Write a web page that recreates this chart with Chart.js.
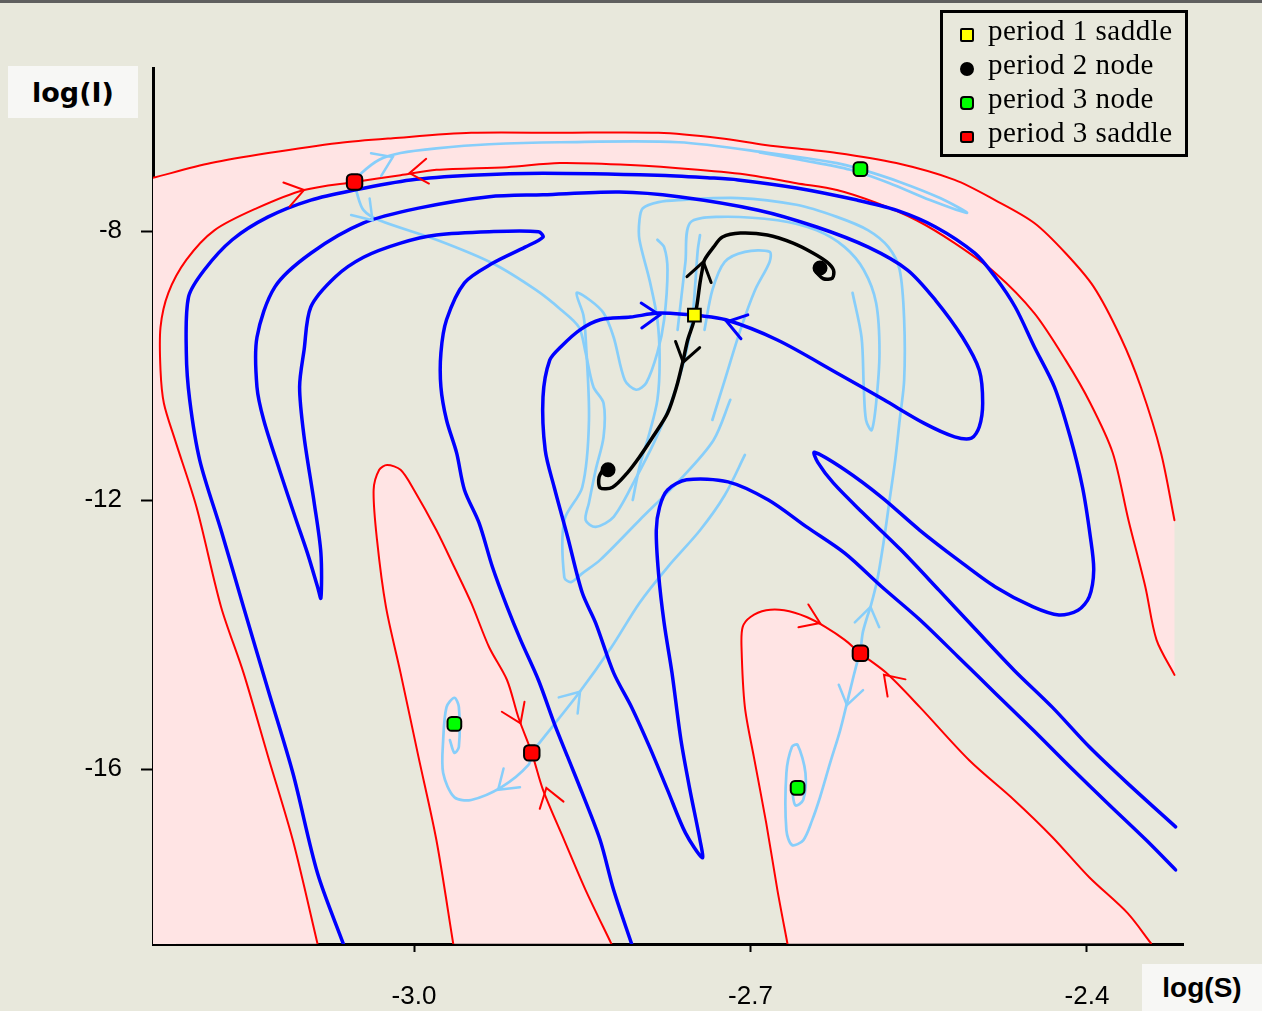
<!DOCTYPE html>
<html><head><meta charset="utf-8">
<script src="https://cdn.jsdelivr.net/npm/chart.js@4.4.1/dist/chart.umd.min.js"></script>
<style>
html,body{margin:0;padding:0;}
body{width:1262px;height:1011px;overflow:hidden;background:#e8e8dc;position:relative;}
#topbar{position:absolute;left:0;top:0;width:1262px;height:3px;background:#5f5f5f;}
#cv{position:absolute;left:0;top:0;}
.axt{position:absolute;background:#f7f7f5;font-family:"DejaVu Sans",sans-serif;font-weight:bold;font-size:27px;color:#000;display:flex;align-items:center;justify-content:center;}
#legend{position:absolute;left:940px;top:10px;width:242px;height:141px;border:3px solid #000;font-family:"Liberation Serif",serif;font-size:29px;letter-spacing:0.5px;color:#000;}
.row{position:absolute;left:0;height:34px;line-height:34px;white-space:nowrap;}
.row span.t{position:absolute;left:45px;top:-3px;}
.mk{position:absolute;left:17px;top:12px;width:10px;height:10px;border:2px solid #000;}
</style></head>
<body>
<div id="topbar"></div>
<canvas id="cv" width="1262" height="1011"></canvas>
<div class="axt" style="left:8px;top:66px;width:130px;height:52px;">log(I)</div>
<div class="axt" style="left:1142px;top:964px;width:120px;height:47px;font-family:'Liberation Sans',sans-serif;font-size:28px;">log(S)</div>
<div id="legend">
  <div class="row" style="top:3px;"><span class="mk" style="background:#ffff00;border-radius:2px;"></span><span class="t">period 1 saddle</span></div>
  <div class="row" style="top:37px;"><span class="mk" style="background:#000;border-radius:7px;"></span><span class="t">period 2 node</span></div>
  <div class="row" style="top:71px;"><span class="mk" style="background:#00ff00;border-radius:4px;"></span><span class="t">period 3 node</span></div>
  <div class="row" style="top:105px;"><span class="mk" style="background:#ff0000;border-radius:3px;height:8px;top:13px;"></span><span class="t">period 3 saddle</span></div>
</div>
<script>
// ---- axes ----
const XMIN = -3.2327, XMAX = -2.3144, YMIN = -18.602, YMAX = -5.576;
const xTicks = [-3.0, -2.7, -2.4];
const xTickLabels = ['-3.0', '-2.7', '-2.4'];
const yTicks = [-8, -12, -16];
const yTickLabels = ['-8', '-12', '-16'];

// ---- red curves (stable manifolds of period-3 saddles) ----
const r1S = [-3.233,-3.181,-3.130,-3.067,-3.019,-2.949,-2.870,-2.782,-2.727,-2.687,-2.623,-2.570,-2.518,-2.482,-2.447,-2.419,-2.394,-2.370,-2.352,-2.334,-2.322];
const r1I = [-7.21,-6.99,-6.84,-6.69,-6.62,-6.54,-6.54,-6.54,-6.62,-6.72,-6.84,-6.99,-7.24,-7.54,-7.88,-8.33,-8.83,-9.58,-10.32,-11.30,-12.30];
const r2S = [-2.322,-2.338,-2.348,-2.363,-2.377,-2.397,-2.419,-2.447,-2.482,-2.518,-2.552,-2.588,-2.623,-2.659,-2.700,-2.747,-2.807,-2.870,-2.917,-2.980,-3.012,-3.053,-3.098,-3.140,-3.178,-3.203,-3.219,-3.226,-3.226,-3.223,-3.213,-3.194,-3.172,-3.152,-3.130,-3.108,-3.086];
const r2I = [-14.60,-14.08,-13.29,-12.30,-11.30,-10.56,-9.92,-9.22,-8.62,-8.18,-7.84,-7.58,-7.39,-7.29,-7.17,-7.09,-7.02,-6.99,-7.05,-7.09,-7.17,-7.27,-7.39,-7.66,-7.99,-8.43,-8.92,-9.43,-10.07,-10.56,-11.11,-12.10,-13.59,-14.57,-15.82,-17.06,-18.60];
const r3S = [-2.965,-2.980,-2.996,-3.012,-3.025,-3.033,-3.036,-3.031,-3.024,-3.012,-3.000,-2.980,-2.964,-2.949,-2.933,-2.917,-2.907,-2.895,-2.885,-2.866,-2.847,-2.824];
const r3I = [-18.60,-17.06,-15.82,-14.57,-13.59,-12.59,-11.85,-11.55,-11.48,-11.55,-11.85,-12.45,-13.00,-13.53,-14.19,-14.68,-15.23,-15.76,-16.31,-17.06,-17.80,-18.60];
const r4S = [-2.667,-2.676,-2.686,-2.697,-2.705,-2.708,-2.707,-2.700,-2.686,-2.670,-2.650,-2.633,-2.616,-2.602,-2.579,-2.549,-2.505,-2.465,-2.431,-2.398,-2.364,-2.343];
const r4I = [-18.60,-17.80,-16.80,-15.82,-15.08,-14.19,-13.89,-13.74,-13.64,-13.64,-13.74,-13.89,-14.08,-14.28,-14.57,-15.08,-15.87,-16.46,-17.01,-17.61,-18.14,-18.59];
const pinkCornerS = [-3.2327];
const pinkCornerI = [-18.602];

// ---- blue curves (stable manifold of period-1 saddle) ----
const b1S = [-3.063,-3.086,-3.108,-3.130,-3.152,-3.172,-3.191,-3.200,-3.203,-3.201,-3.187,-3.162,-3.130,-3.092,-3.053,-3.003,-2.949,-2.885,-2.783,-2.736,-2.711,-2.659,-2.605,-2.570,-2.535,-2.500,-2.482,-2.464,-2.447,-2.429,-2.415,-2.404,-2.397,-2.394,-2.398,-2.408,-2.425,-2.448,-2.482,-2.515,-2.549,-2.583,-2.616,-2.643,-2.640,-2.626,-2.600,-2.566,-2.532,-2.499,-2.465,-2.431,-2.398,-2.364,-2.321];
const b1I = [-18.60,-17.55,-16.06,-14.83,-13.59,-12.45,-11.41,-10.51,-9.81,-8.98,-8.58,-8.13,-7.79,-7.54,-7.39,-7.24,-7.17,-7.14,-7.17,-7.21,-7.24,-7.36,-7.54,-7.69,-7.94,-8.33,-8.68,-9.13,-9.72,-10.32,-11.06,-11.81,-12.55,-13.04,-13.44,-13.64,-13.71,-13.59,-13.29,-12.89,-12.45,-11.96,-11.55,-11.29,-11.44,-11.75,-12.19,-12.74,-13.34,-13.93,-14.53,-15.08,-15.67,-16.21,-16.86];
const b2S = [-2.806,-2.822,-2.834,-2.850,-2.863,-2.875,-2.889,-2.905,-2.917,-2.930,-2.942,-2.955,-2.962,-2.971,-2.976,-2.976,-2.971,-2.955,-2.930,-2.901,-2.885,-2.889,-2.933,-2.980,-3.012,-3.045,-3.070,-3.092,-3.098,-3.102,-3.098,-3.089,-3.083,-3.083,-3.086,-3.095,-3.105,-3.120,-3.134,-3.140,-3.140,-3.124,-3.092,-3.045,-2.996,-2.933,-2.885,-2.817,-2.764,-2.693,-2.641,-2.595,-2.560,-2.535,-2.511,-2.496,-2.493,-2.496,-2.503,-2.518,-2.545,-2.581,-2.623,-2.676,-2.722,-2.750];
const b2I = [-18.60,-17.80,-17.06,-16.36,-15.82,-15.32,-14.68,-14.08,-13.59,-13.00,-12.34,-11.85,-11.30,-10.81,-10.32,-9.81,-9.32,-8.77,-8.48,-8.24,-8.09,-8.01,-8.01,-8.06,-8.18,-8.39,-8.68,-9.13,-9.77,-10.32,-11.06,-12.04,-12.79,-13.46,-13.29,-12.79,-12.30,-11.55,-10.81,-10.32,-9.58,-8.83,-8.33,-7.88,-7.66,-7.49,-7.46,-7.42,-7.49,-7.69,-7.94,-8.24,-8.58,-9.03,-9.58,-10.07,-10.56,-10.91,-11.08,-11.06,-10.86,-10.51,-10.11,-9.62,-9.32,-9.25];
const b3S = [-2.750,-2.782,-2.807,-2.834,-2.852,-2.869,-2.879,-2.885,-2.883,-2.875,-2.863,-2.850,-2.838,-2.822,-2.806,-2.790,-2.774,-2.758,-2.743,-2.745,-2.754,-2.762,-2.770,-2.777,-2.782,-2.784,-2.781,-2.774,-2.757,-2.720,-2.684,-2.650,-2.616,-2.583,-2.549,-2.515,-2.482,-2.448,-2.415,-2.381,-2.347,-2.321];
const b3I = [-9.25,-9.22,-9.28,-9.32,-9.47,-9.72,-9.92,-10.47,-11.26,-11.81,-12.55,-13.38,-13.83,-14.57,-15.08,-15.67,-16.31,-16.95,-17.32,-17.06,-16.31,-15.57,-14.57,-13.83,-13.09,-12.45,-12.10,-11.85,-11.70,-11.73,-12.00,-12.40,-12.79,-13.29,-13.78,-14.33,-14.87,-15.42,-15.97,-16.52,-17.06,-17.50];

// ---- black curves (unstable manifold of period-1 saddle) ----
const k1S = [-2.750,-2.748,-2.745,-2.743,-2.741,-2.733,-2.725,-2.709,-2.685,-2.662,-2.644,-2.632,-2.626,-2.627,-2.635,-2.641];
const k1I = [-9.25,-9.13,-8.77,-8.58,-8.43,-8.24,-8.09,-8.03,-8.06,-8.18,-8.33,-8.46,-8.58,-8.70,-8.71,-8.62];
const k2S = [-2.750,-2.751,-2.756,-2.760,-2.766,-2.774,-2.787,-2.799,-2.810,-2.823,-2.834,-2.835,-2.830];
const k2I = [-9.25,-9.37,-9.62,-9.92,-10.32,-10.71,-11.06,-11.36,-11.60,-11.81,-11.82,-11.66,-11.51];

// ---- light blue curves (unstable manifolds of period-3 saddles) ----
const lb1S = [-3.053,-3.047,-3.031,-3.012,-2.980,-2.933,-2.870,-2.764,-2.683,-2.623,-2.602,-2.567,-2.531,-2.507,-2.540,-2.576,-2.611,-2.656,-2.692];
const lb1I = [-7.27,-7.14,-6.94,-6.84,-6.77,-6.71,-6.68,-6.68,-6.84,-6.99,-7.08,-7.27,-7.51,-7.73,-7.54,-7.29,-7.09,-6.94,-6.83];
const lb2S = [-3.053,-3.051,-3.045,-3.031,-2.980,-2.930,-2.891,-2.869,-2.853,-2.847,-2.840,-2.831,-2.831,-2.838,-2.844,-2.847,-2.838,-2.822,-2.803,-2.785,-2.770,-2.759,-2.752,-2.749,-2.747,-2.745];
const lb2I = [-7.27,-7.43,-7.69,-7.84,-8.13,-8.48,-8.88,-9.17,-9.43,-9.81,-10.32,-10.56,-11.06,-11.55,-12.04,-12.30,-12.40,-12.25,-11.70,-11.11,-10.51,-9.92,-9.32,-8.73,-8.28,-8.06];
const lb3S = [-2.895,-2.891,-2.853,-2.824,-2.799,-2.774,-2.745,-2.723,-2.705];
const lb3I = [-15.76,-15.67,-14.87,-14.19,-13.53,-13.00,-12.45,-11.93,-11.33];
const lb4S = [-2.895,-2.898,-2.922,-2.949,-2.964,-2.974,-2.974,-2.971,-2.964,-2.960,-2.960,-2.964,-2.968];
const lb4I = [-15.76,-15.94,-16.27,-16.46,-16.42,-16.06,-15.57,-15.08,-14.94,-15.08,-15.67,-15.76,-15.57];
const lb5S = [-2.602,-2.600,-2.596,-2.593,-2.587,-2.581,-2.576,-2.571,-2.567,-2.563,-2.563,-2.567,-2.577,-2.595,-2.623,-2.659,-2.711,-2.764,-2.782,-2.796,-2.799,-2.799,-2.790,-2.783,-2.781,-2.783,-2.790,-2.799,-2.805];
const lb5I = [-14.28,-13.98,-13.74,-13.59,-13.19,-12.59,-12.00,-11.41,-10.81,-10.22,-9.32,-8.58,-8.24,-7.99,-7.79,-7.61,-7.51,-7.54,-7.57,-7.66,-7.84,-8.13,-8.73,-9.32,-9.92,-10.51,-11.00,-11.51,-12.00];
const lb6S = [-2.602,-2.605,-2.609,-2.614,-2.620,-2.629,-2.638,-2.645,-2.653,-2.663,-2.668,-2.668,-2.663,-2.658,-2.651,-2.653,-2.660,-2.663];
const lb6I = [-14.28,-14.42,-14.68,-15.02,-15.42,-15.91,-16.42,-16.76,-17.06,-17.13,-16.91,-16.06,-15.67,-15.64,-16.06,-16.46,-16.54,-16.31];
const lb7S = [-2.765,-2.758,-2.754,-2.729,-2.676,-2.641,-2.616,-2.599,-2.588,-2.585,-2.588,-2.592,-2.597,-2.599,-2.601,-2.609];
const lb7I = [-9.47,-8.46,-7.88,-7.79,-7.84,-7.99,-8.24,-8.58,-9.07,-9.81,-10.56,-10.96,-10.81,-10.32,-9.58,-8.92];
const lb8S = [-2.734,-2.723,-2.709,-2.696,-2.683,-2.683,-2.705,-2.723,-2.734,-2.741];
const lb8I = [-10.81,-10.22,-9.47,-8.88,-8.46,-8.31,-8.31,-8.46,-8.88,-9.47];
const lb9S = [-2.783,-2.777,-2.774,-2.777,-2.783,-2.793,-2.802,-2.812,-2.822,-2.831,-2.843,-2.855,-2.849,-2.847,-2.844,-2.850,-2.866,-2.866,-2.860,-2.850,-2.834,-2.799,-2.763,-2.733,-2.718];
const lb9I = [-8.13,-8.24,-8.58,-9.32,-9.81,-10.26,-10.36,-10.22,-9.58,-9.22,-9.03,-8.92,-9.25,-9.58,-10.81,-11.81,-12.30,-13.15,-13.22,-13.09,-12.89,-12.30,-11.70,-11.11,-10.51];

// ---- fixed / periodic points ----
const p1SaddleS = [-2.750], p1SaddleI = [-9.25];
const p2NodeS = [-2.638, -2.827], p2NodeI = [-8.55, -11.55];
const p3NodeS = [-2.602, -2.964, -2.658], p3NodeI = [-7.08, -15.33, -16.28];
const p3SaddleS = [-3.053, -2.895, -2.602], p3SaddleI = [-7.27, -15.76, -14.28];

// ---- direction arrows: tip point and a point behind it on the curve ----
const redArrowTipS = [-3.098,-3.004,-2.905,-2.882,-2.638,-2.581];
const redArrowTipI = [-7.39,-7.14,-15.32,-16.28,-13.83,-14.60];
const redArrowBackS = [-3.119,-2.977,-2.913,-2.876,-2.660,-2.562];
const redArrowBackI = [-7.48,-7.09,-15.02,-16.61,-13.67,-14.93];
const lbArrowTipS = [-3.019,-3.037,-2.852,-2.925,-2.593,-2.614];
const lbArrowTipI = [-6.90,-7.84,-14.85,-16.31,-13.59,-15.05];
const lbArrowBackS = [-3.035,-3.051,-2.870,-2.910,-2.597,-2.610];
const lbArrowBackI = [-7.02,-7.58,-15.20,-16.09,-13.93,-14.75];
const blueArrowTipS = [-2.781,-2.721];
const blueArrowTipI = [-9.25,-9.35];
const blueArrowBackS = [-2.807,-2.696];
const blueArrowBackI = [-9.26,-9.47];
const blackArrowTipS = [-2.742,-2.760];
const blackArrowTipI = [-8.46,-9.95];
const blackArrowBackS = [-2.747,-2.754];
const blackArrowBackI = [-8.80,-9.55];

// ---------------------------------------------------------------
const pts = (S, I) => S.map((s, i) => ({x: s, y: I[i]}));
const RED = '#ff0000', BLUE = '#0000ff', LBLUE = '#87cefa', BLACK = '#000000', PINK = '#ffe4e4';

function line(label, S, I, color, width, order) {
  return {type: 'line', label, data: pts(S, I), borderColor: color, borderWidth: width,
    pointRadius: 0, tension: 0.3, fill: false, order, borderJoinStyle: 'round', borderCapStyle: 'round'};
}
function marker(label, S, I, color, style, radius) {
  return {type: 'scatter', label, data: pts(S, I), backgroundColor: color, borderColor: '#000',
    borderWidth: 2, pointStyle: style, pointRadius: radius, showLine: false, order: 0};
}

const datasets = [
  marker('period 1 saddle', p1SaddleS, p1SaddleI, '#ffff00', 'rect', 9),
  marker('period 2 node', p2NodeS, p2NodeI, '#000000', 'circle', 6.5),
  marker('period 3 node', p3NodeS, p3NodeI, '#00ff00', 'rectRounded', 8),
  marker('period 3 saddle', p3SaddleS, p3SaddleI, '#ff0000', 'rectRounded', 9),
  line('k1', k1S, k1I, BLACK, 3.5, 1),
  line('k2', k2S, k2I, BLACK, 3.5, 1),
  line('b1', b1S, b1I, BLUE, 3.5, 2),
  line('b2', b2S, b2I, BLUE, 3.5, 2),
  line('b3', b3S, b3I, BLUE, 3.5, 2),
  line('r1', r1S, r1I, RED, 2, 3),
  line('r2', r2S, r2I, RED, 2, 3),
  line('r3', r3S, r3I, RED, 2, 3),
  line('r4', r4S, r4I, RED, 2, 3),
  line('lb1', lb1S, lb1I, LBLUE, 2.7, 4),
  line('lb2', lb2S, lb2I, LBLUE, 2.7, 4),
  line('lb3', lb3S, lb3I, LBLUE, 2.7, 4),
  line('lb4', lb4S, lb4I, LBLUE, 2.7, 4),
  line('lb5', lb5S, lb5I, LBLUE, 2.7, 4),
  line('lb6', lb6S, lb6I, LBLUE, 2.7, 4),
  line('lb7', lb7S, lb7I, LBLUE, 2.7, 4),
  line('lb8', lb8S, lb8I, LBLUE, 2.7, 4),
  line('lb9', lb9S, lb9I, LBLUE, 2.7, 4),
];
const dsIndex = {};
datasets.forEach((d, i) => dsIndex[d.label] = i);

// pink basin regions: sequences of curves (and corner points) to be closed
const pinkRegions = [
  [{ds: 'r1'}, {ds: 'r2'}, {s: pinkCornerS[0], i: pinkCornerI[0]}],
  [{ds: 'r3'}],
  [{ds: 'r4'}],
];

const pinkPlugin = {
  id: 'pinkFill',
  beforeDatasetsDraw(chart) {
    const ctx = chart.ctx, a = chart.chartArea;
    ctx.save();
    ctx.beginPath(); ctx.rect(a.left, a.top, a.right - a.left, a.bottom - a.top); ctx.clip();
    ctx.fillStyle = PINK;
    for (const reg of pinkRegions) {
      ctx.beginPath();
      let first = true;
      for (const part of reg) {
        if (part.ds !== undefined) {
          const p = chart.getDatasetMeta(dsIndex[part.ds]).data;
          if (first) { ctx.moveTo(p[0].x, p[0].y); first = false; } else ctx.lineTo(p[0].x, p[0].y);
          for (let k = 1; k < p.length; k++) {
            const q = p[k - 1], r = p[k];
            ctx.bezierCurveTo(q.cp2x ?? q.x, q.cp2y ?? q.y, r.cp1x ?? r.x, r.cp1y ?? r.y, r.x, r.y);
          }
        } else {
          const x = chart.scales.x.getPixelForValue(part.s), y = chart.scales.y.getPixelForValue(part.i);
          if (first) { ctx.moveTo(x, y); first = false; } else ctx.lineTo(x, y);
        }
      }
      ctx.closePath(); ctx.fill();
    }
    ctx.restore();
  }
};

const arrowSets = [
  {tipS: redArrowTipS, tipI: redArrowTipI, backS: redArrowBackS, backI: redArrowBackI, color: RED, width: 2},
  {tipS: lbArrowTipS, tipI: lbArrowTipI, backS: lbArrowBackS, backI: lbArrowBackI, color: LBLUE, width: 2.5},
  {tipS: blueArrowTipS, tipI: blueArrowTipI, backS: blueArrowBackS, backI: blueArrowBackI, color: BLUE, width: 3},
  {tipS: blackArrowTipS, tipI: blackArrowTipI, backS: blackArrowBackS, backI: blackArrowBackI, color: BLACK, width: 3},
];
const arrowPlugin = {
  id: 'arrows',
  afterDatasetsDraw(chart) {
    const ctx = chart.ctx, xs = chart.scales.x, ys = chart.scales.y;
    ctx.save();
    ctx.lineCap = 'round';
    for (const set of arrowSets) {
      ctx.strokeStyle = set.color; ctx.lineWidth = set.width;
      for (let k = 0; k < set.tipS.length; k++) {
        const tx = xs.getPixelForValue(set.tipS[k]), ty = ys.getPixelForValue(set.tipI[k]);
        const bx = xs.getPixelForValue(set.backS[k]), by = ys.getPixelForValue(set.backI[k]);
        const ang = Math.atan2(ty - by, tx - bx);
        const L = 22, spread = 0.6;
        ctx.beginPath();
        ctx.moveTo(tx + L * Math.cos(ang + Math.PI - spread), ty + L * Math.sin(ang + Math.PI - spread));
        ctx.lineTo(tx, ty);
        ctx.lineTo(tx + L * Math.cos(ang + Math.PI + spread), ty + L * Math.sin(ang + Math.PI + spread));
        ctx.stroke();
      }
    }
    ctx.restore();
  }
};

new Chart(document.getElementById('cv'), {
  type: 'line',
  data: {datasets},
  plugins: [pinkPlugin, arrowPlugin],
  options: {
    responsive: false, animation: false, devicePixelRatio: 1,
    layout: {padding: {left: 0, top: 68, right: 79, bottom: 0}},
    plugins: {legend: {display: false}, tooltip: {enabled: false}},
    scales: {
      x: {
        type: 'linear', min: XMIN, max: XMAX,
        afterBuildTicks: s => { s.ticks = xTicks.map(v => ({value: v})); },
        afterFit: s => { s.height = 67; },
        ticks: {callback: (v, i) => xTickLabels[i], color: '#000', font: {family: 'Liberation Sans', size: 26}, padding: 29, maxRotation: 0, autoSkip: false},
        grid: {display: true, drawOnChartArea: false, drawTicks: true, tickLength: 8, tickWidth: 2, tickColor: '#000'},
        border: {display: true, color: '#000', width: 3}
      },
      y: {
        type: 'linear', min: YMIN, max: YMAX,
        afterBuildTicks: s => { s.ticks = yTicks.map(v => ({value: v})); },
        afterFit: s => { s.width = 153; },
        ticks: {callback: (v, i) => yTickLabels[i], color: '#000', font: {family: 'Liberation Sans', size: 26}, padding: 19, autoSkip: false},
        grid: {display: true, drawOnChartArea: false, drawTicks: true, tickLength: 12, tickWidth: 2, tickColor: '#000'},
        border: {display: true, color: '#000', width: 3}
      }
    }
  }
});
</script>
</body></html>
